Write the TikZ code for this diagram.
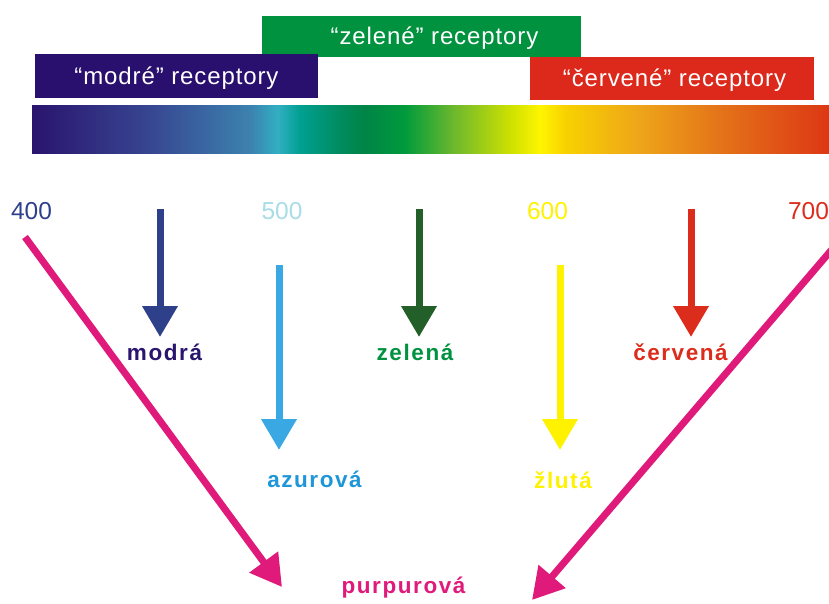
\documentclass[tikz,border=0pt]{standalone}
\usepackage{fontspec}
\setmainfont{Liberation Sans}
\newfontfamily\recfont[LetterSpace=3.7]{Liberation Sans}
\newfontfamily\lblfont[LetterSpace=7]{Liberation Sans}
\usetikzlibrary{arrows.meta}

\definecolor{modBox}{RGB}{42,16,110}
\definecolor{zelBox}{RGB}{0,146,63}
\definecolor{cerBox}{RGB}{220,41,28}
\definecolor{modArr}{RGB}{46,64,138}
\definecolor{modTxt}{RGB}{42,20,110}
\definecolor{azuArr}{RGB}{58,168,226}
\definecolor{azuTxt}{RGB}{30,150,215}
\definecolor{azuNum}{RGB}{168,220,230}
\definecolor{zelArr}{RGB}{35,95,40}
\definecolor{zelTxt}{RGB}{0,146,63}
\definecolor{zlu}{RGB}{255,242,0}
\definecolor{cer}{RGB}{220,44,28}
\definecolor{pur}{RGB}{224,26,122}

\pgfdeclarehorizontalshading{spectrum}{100bp}{%
  rgb(0bp)=(0.165,0.078,0.431);
  rgb(25bp)=(0.165,0.078,0.431);
  rgb(32.4bp)=(0.216,0.275,0.569);
  rgb(38.7bp)=(0.235,0.51,0.686);
  rgb(40.4bp)=(0.196,0.686,0.765);
  rgb(41.8bp)=(0,0.627,0.569);
  rgb(44.3bp)=(0,0.549,0.373);
  rgb(45.9bp)=(0,0.518,0.275);
  rgb(48.4bp)=(0,0.608,0.235);
  rgb(51.5bp)=(0.431,0.725,0.176);
  rgb(55bp)=(0.804,0.882,0);
  rgb(56.9bp)=(1,0.961,0);
  rgb(58.4bp)=(0.973,0.824,0);
  rgb(63.1bp)=(0.933,0.647,0.098);
  rgb(68.2bp)=(0.894,0.451,0.098);
  rgb(75bp)=(0.863,0.216,0.078);
  rgb(100bp)=(0.863,0.216,0.078)}

\begin{document}
\begin{tikzpicture}[x=1pt, y=-1pt,
    recbox/.style={text=white, inner sep=0pt, text height=19pt, text depth=3pt, font=\recfont\fontsize{24}{28}\selectfont},
    num/.style={anchor=base, inner sep=0pt, font=\fontsize{24.5}{28}\selectfont},
    lbl/.style={anchor=base, inner sep=0pt, font=\lblfont\bfseries\fontsize{22.5}{26}\selectfont},
    arr/.style={line width=7pt, -{Triangle[length=31pt,width=34pt]}}]

    \useasboundingbox (0,0) rectangle (829,603);

    % Receptor boxes
    \node[recbox, fill=zelBox, minimum width=319pt, minimum height=41pt] (zelRec) at (421.5,36.5) {\hspace*{26pt}“zelené” receptory};
    \node[recbox, fill=modBox, minimum width=283pt, minimum height=44pt] (modRec) at (176.5,76) {“modré” receptory};
    \node[recbox, fill=cerBox, minimum width=284pt, minimum height=43pt] (cerRec) at (672,78.5) {\hspace*{5pt}“červené” receptory};

    % Spectrum
    \node[shade, shading=spectrum, inner sep=0pt, minimum width=797pt, minimum height=48pt] (spectrum) at (430.5,129) {};

    % Wavelengths
    \node[num, text=modArr] (n400) at (31.5,219) {400};
    \node[num, text=azuNum] (n500) at (282,219) {500};
    \node[num, text=zlu] (n600) at (547.5,219) {600};
    \node[num, text=cer] (n700) at (808.5,219) {700};

    % Colour names
    \node[lbl, text=modTxt] (modra) at (164.5,360) {modrá};
    \node[lbl, text=zelTxt] (zelena) at (415,360) {zelená};
    \node[lbl, text=cer] (cervena) at (680.5,360) {červená};
    \node[lbl, text=azuTxt] (azurova) at (314.5,487) {azurová};
    \node[lbl, text=zlu] (zluta) at (563,488) {žlutá};
    \node[lbl, text=pur] (purpurova) at (403.5,593) {purpurová};

    % Arrow ends
    \coordinate (modTop) at (160,209);
    \coordinate (modTip) at (160,337);
    \coordinate (zelTop) at (419,209);
    \coordinate (zelTip) at (419,337);
    \coordinate (cerTop) at (691,209);
    \coordinate (cerTip) at (691,337);
    \coordinate (azuTop) at (279,265);
    \coordinate (azuTip) at (279,450);
    \coordinate (zluTop) at (560,265);
    \coordinate (zluTip) at (560,450);
    \coordinate (purL) at (25,237);
    \coordinate (purLTip) at (282,587);
    \coordinate (purR) at (840,240);
    \coordinate (purRTip) at (532,600);

    % Arrows
    \draw[arr, modArr] (modTop) -- (modTip);
    \draw[arr, zelArr] (zelTop) -- (zelTip);
    \draw[arr, cer] (cerTop) -- (cerTip);
    \draw[arr, azuArr] (azuTop) -- (azuTip);
    \draw[arr, zlu] (zluTop) -- (zluTip);
    \draw[arr, pur] (purL) -- (purLTip);
    \draw[arr, pur] (purR) -- (purRTip);

\end{tikzpicture}
\end{document}
